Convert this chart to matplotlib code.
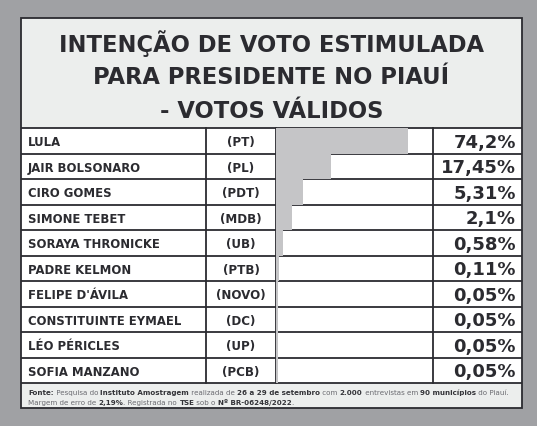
import numpy as np
import matplotlib
matplotlib.use("Agg")
import matplotlib.pyplot as plt
from matplotlib.patches import Rectangle

# ============================
# Data
# ============================
candidates = ["LULA", "JAIR BOLSONARO", "CIRO GOMES", "SIMONE TEBET", "SORAYA THRONICKE",
              "PADRE KELMON", "FELIPE D'ÁVILA", "CONSTITUINTE EYMAEL", "LÉO PÉRICLES",
              "SOFIA MANZANO"]
parties = ["(PT)", "(PL)", "(PDT)", "(MDB)", "(UB)", "(PTB)", "(NOVO)", "(DC)", "(UP)", "(PCB)"]
votes = [74.2, 17.45, 5.31, 2.1, 0.58, 0.11, 0.05, 0.05, 0.05, 0.05]
vote_labels = ["74,2%", "17,45%", "5,31%", "2,1%", "0,58%", "0,11%", "0,05%", "0,05%",
               "0,05%", "0,05%"]
title_lines = ["INTENÇÃO DE VOTO ESTIMULADA", "PARA PRESIDENTE NO PIAUÍ", "- VOTOS VÁLIDOS"]
footer_1 = [("Fonte:", True), (" Pesquisa do ", False), ("Instituto Amostragem", True),
            (" realizada de ", False), ("26 a 29 de setembro", True), (" com ", False),
            ("2.000", True), (" entrevistas em ", False), ("90 municípios", True),
            (" do Piauí.", False)]
footer_2 = [("Margem de erro de ", False), ("2,19%", True), (". Registrada no ", False),
            ("TSE", True), (" sob o ", False), ("Nº BR-06248/2022", True), (".", False)]

# ============================
# Layout (pixels)
# ============================
W, H = 537, 427
BG = "#a0a1a4"
LIGHT = "#eceeed"
DARK = "#2b2b30"
BAR = "#c5c5c7"

left, right = 21, 522
top, title_bottom = 19, 129
rows_bottom, footer_bottom = 384, 409
col_party, col_bar, col_val = 206, 276, 433
n = len(candidates)
row_h = (rows_bottom - title_bottom) / n

fig = plt.figure(figsize=(W / 100, H / 100), dpi=100, facecolor=BG)
ax = fig.add_axes([0, 0, 1, 1])
ax.set_xlim(0, W)
ax.set_ylim(H, 0)
ax.axis("off")

# panel backgrounds
ax.add_patch(Rectangle((left, top), right - left, title_bottom - top, fc=LIGHT, ec="none"))
ax.add_patch(Rectangle((left, title_bottom), right - left, rows_bottom - title_bottom,
                       fc="white", ec="none"))
ax.add_patch(Rectangle((left, rows_bottom), right - left, footer_bottom - rows_bottom,
                       fc=LIGHT, ec="none"))

# title
for i, line in enumerate(title_lines):
    ax.text((left + right) / 2, 44 + i * 33.5, line, ha="center", va="center",
            fontsize=16.3, fontweight="bold", color=DARK)

# bars in their own axes (compressed scale, like the original artwork)
bax = fig.add_axes([col_bar / W, 1 - rows_bottom / H, (col_val - col_bar) / W,
                    (rows_bottom - title_bottom) / H])
bax.set_xscale("function", functions=(lambda x: np.power(np.clip(x, 0, None), 0.6),
                                      lambda x: np.power(np.clip(x, 0, None), 1 / 0.6)))
bax.barh(np.arange(n), votes, height=1.0, color=BAR, left=0)
bax.set_ylim(n - 0.5, -0.5)
bax.set_xlim(0, 74.2 * 1.34)
bax.axis("off")
bax.patch.set_alpha(0)

# row texts and lines
for i in range(n):
    yc = title_bottom + (i + 0.5) * row_h
    ax.text(left + 7, yc + 1, candidates[i], ha="left", va="center", fontsize=8.4,
            fontweight="bold", color=DARK)
    ax.text((col_party + col_bar) / 2, yc + 1, parties[i], ha="center", va="center",
            fontsize=8.6, fontweight="bold", color=DARK)
    ax.text(right - 6, yc + 1, vote_labels[i], ha="right", va="center", fontsize=13,
            fontweight="bold", color=DARK)

for i in range(n + 1):
    y = title_bottom + i * row_h
    ax.plot([left, right], [y, y], color=DARK, lw=1.3, solid_capstyle="butt")
for x in (col_party, col_bar, col_val):
    ax.plot([x, x], [title_bottom, rows_bottom], color=DARK, lw=1.3)

# outer borders
ax.add_patch(Rectangle((left, top), right - left, footer_bottom - top, fc="none",
                       ec=DARK, lw=1.3))

# footer with mixed weights
fig.canvas.draw()
renderer = fig.canvas.get_renderer()


def draw_runs(runs, x0, y):
    x = x0
    for txt, bold in runs:
        t = ax.text(x, y, txt, ha="left", va="center", fontsize=5.15,
                    fontweight="bold" if bold else "normal",
                    color="#333338" if bold else "#6a6a70")
        bb = t.get_window_extent(renderer=renderer)
        x += bb.width


draw_runs(footer_1, left + 7, 393)
draw_runs(footer_2, left + 7, 403)

plt.savefig("out.png", dpi=100, facecolor=BG)
